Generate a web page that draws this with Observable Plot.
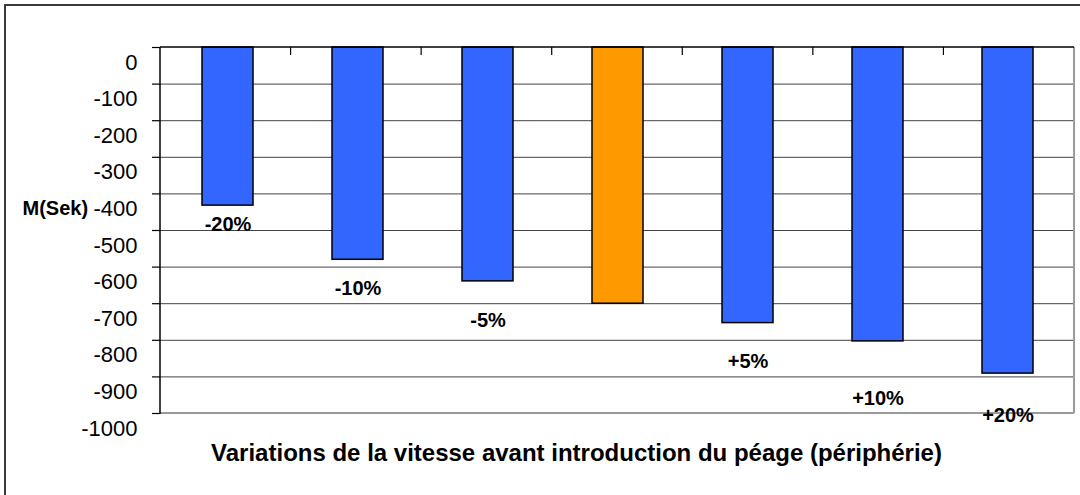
<!DOCTYPE html>
<html><head><meta charset="utf-8">
<script src="https://cdn.jsdelivr.net/npm/d3@7"></script>
<script src="https://cdn.jsdelivr.net/npm/@observablehq/plot@0.6"></script>
<style>
body{margin:0;background:#fff;overflow:hidden;}
#wrap{position:relative;width:1080px;height:495px;overflow:hidden;background:#fff;}
#outer{position:absolute;left:4px;top:4px;width:2000px;height:2000px;border:2px solid #3a3a3a;pointer-events:none;box-sizing:border-box;}
#chart{position:absolute;left:0;top:0;}
</style></head><body>
<div id="wrap"><div id="chart"></div><div id="outer"></div></div>
<script>
// ---- data ----
const categories = ["-20%", "-10%", "-5%", "0%", "+5%", "+10%", "+20%"];
const values = [-432, -580, -639, -700, -753, -803, -891];
const barLabels = ["-20%", "-10%", "-5%", "", "+5%", "+10%", "+20%"];
const labelValues = [-483, -660, -745, null, -857, -959, -1006];
const isBase = [false, false, false, true, false, false, false];
const yTicks = [0, -100, -200, -300, -400, -500, -600, -700, -800, -900, -1000];
const yLabel = "M(Sek)";
const yLabelAt = -400;
const title = "Variations de la vitesse avant introduction du péage (périphérie)";

const data = categories.map((c, i) => ({cat: c, value: values[i], label: barLabels[i], ly: labelValues[i], base: isBase[i]}));
const font = "'Liberation Sans', Arial, sans-serif";

function getDims(args) {
  return args.find(a => a && typeof a === "object" && "marginLeft" in a && "width" in a);
}
function frameLines(...args) {
  const dims = getDims(args);
  const left = dims.marginLeft, right = dims.width - dims.marginRight;
  const top = dims.marginTop, bottom = dims.height - dims.marginBottom;
  const g = d3.create("svg:g");
  g.append("line").attr("x1", right).attr("x2", right).attr("y1", top).attr("y2", bottom)
    .attr("stroke", "#9a9a9a").attr("stroke-width", 2);
  g.append("line").attr("x1", left).attr("x2", right).attr("y1", bottom).attr("y2", bottom)
    .attr("stroke", "#9a9a9a").attr("stroke-width", 2);
  return g.node();
}
function axisLines(...args) {
  const dims = getDims(args);
  const left = dims.marginLeft, right = dims.width - dims.marginRight;
  const top = dims.marginTop, bottom = dims.height - dims.marginBottom;
  const g = d3.create("svg:g");
  g.append("line").attr("x1", left).attr("x2", right).attr("y1", top).attr("y2", top)
    .attr("stroke", "#000").attr("stroke-width", 1.5);
  g.append("line").attr("x1", left).attr("x2", left).attr("y1", top).attr("y2", bottom + 1)
    .attr("stroke", "#000").attr("stroke-width", 1.5);
  const step = (right - left) / categories.length;
  for (let k = 1; k < categories.length; k++) {
    const x = left + k * step;
    g.append("line").attr("x1", x).attr("x2", x).attr("y1", top).attr("y2", top + 8)
      .attr("stroke", "#000").attr("stroke-width", 1.2);
  }
  return g.node();
}

const chart = Plot.plot({
  width: 1080, height: 495,
  marginLeft: 160, marginRight: 6, marginTop: 47, marginBottom: 82,
  style: {fontFamily: font, background: "transparent", color: "#000"},
  x: {domain: categories, paddingInner: 0.61, paddingOuter: 0.305, axis: null},
  y: {domain: [-1000, 0], axis: null},
  marks: [
    Plot.ruleY(yTicks.filter(v => v < 0 && v > -1000), {stroke: "#444", strokeWidth: 1}),
    frameLines,
    Plot.barY(data, {x: "cat", y: "value", fill: d => d.base ? "#FF9900" : "#3366FF", stroke: "#000", strokeWidth: 1.5}),
    axisLines,
    Plot.axisY(yTicks, {tickSize: 8, tickFormat: () => "", stroke: "#000", strokeWidth: 1.2}),
    Plot.axisY(yTicks, {tickSize: 0, tickPadding: 23, fontSize: 22, tickFormat: d => String(d), dy: 15, fill: "#000"}),
    Plot.text(data.filter(d => d.label), {x: "cat", y: "ly", text: "label", fontSize: 20, fontWeight: "bold", fill: "#000", lineAnchor: "middle"}),
    Plot.text([{t: yLabel, v: yLabelAt}], {y: "v", text: "t", frameAnchor: "left", textAnchor: "start", dx: -138, dy: 15, fontSize: 20, fontWeight: "bold", fill: "#000", lineAnchor: "middle"}),
    Plot.text([title], {frameAnchor: "bottom", dy: 40, dx: -41, fontSize: 24, fontWeight: "bold", fill: "#000", lineAnchor: "middle"})
  ]
});
document.getElementById("chart").appendChild(chart);
</script>
</body></html>
